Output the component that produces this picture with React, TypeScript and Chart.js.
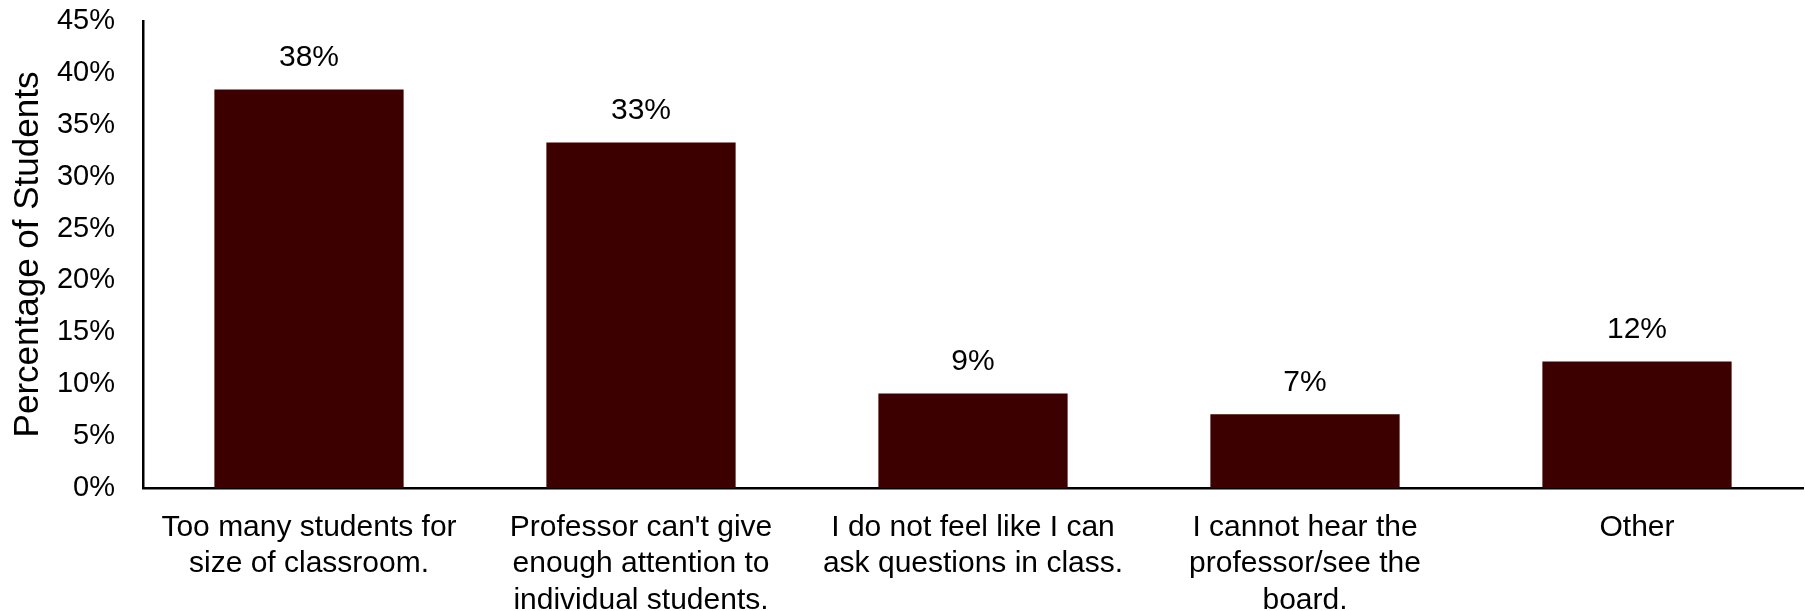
import React, { useEffect, useRef } from 'react';
import { Chart, registerables } from 'chart.js';

Chart.register(...registerables);

const categories: string[][] = [
  ['Too many students for', 'size of classroom.'],
  ["Professor can't give", 'enough attention to', 'individual students.'],
  ['I do not feel like I can', 'ask questions in class.'],
  ['I cannot hear the', 'professor/see the', 'board.'],
  ['Other'],
];
const values: number[] = [38.4, 33.3, 9.1, 7.1, 12.2];
const valueLabels: string[] = ['38%', '33%', '9%', '7%', '12%'];
const yMin = 0;
const yMax = 45;
const yStep = 5;
const yTitle = 'Percentage of Students';

const FONT = "'Liberation Sans', Arial, sans-serif";
const BAR_COLOR = '#3c0000';

const valueLabelPlugin = {
  id: 'valueLabels',
  afterDatasetsDraw(chart: any) {
    const ctx = chart.ctx;
    const meta = chart.getDatasetMeta(0);
    ctx.save();
    ctx.font = `30px ${FONT}`;
    ctx.fillStyle = '#000';
    ctx.textAlign = 'center';
    ctx.textBaseline = 'middle';
    meta.data.forEach((bar: any, i: number) => {
      ctx.fillText(valueLabels[i], bar.x, bar.y - 32);
    });
    ctx.restore();
  },
};

export default function App() {
  const canvasRef = useRef<HTMLCanvasElement | null>(null);

  useEffect(() => {
    document.body.style.margin = '0';
    const canvas = canvasRef.current;
    if (!canvas) return;
    const chart = new Chart(canvas, {
      type: 'bar',
      data: {
        labels: categories,
        datasets: [
          {
            data: values,
            backgroundColor: BAR_COLOR,
            borderWidth: 0,
            barPercentage: 0.57,
            categoryPercentage: 1,
          },
        ],
      },
      options: {
        animation: false,
        responsive: true,
        maintainAspectRatio: false,
        devicePixelRatio: 1,
        layout: { padding: { top: 0, right: 2, bottom: 0, left: 0 } },
        plugins: {
          legend: { display: false },
          tooltip: { enabled: false },
          title: { display: false },
        },
        scales: {
          x: {
            grid: { display: false, drawTicks: false },
            border: { display: true, color: '#000', width: 2.5 },
            ticks: {
              color: '#000',
              padding: 21,
              maxRotation: 0,
              autoSkip: false,
              font: { family: FONT, size: 30, lineHeight: 1.22 },
            },
            afterFit: (scale: any) => {
              scale.height = 123;
            },
          },
          y: {
            min: yMin,
            max: yMax,
            grid: { display: false, drawTicks: false },
            border: { display: true, color: '#000', width: 2.5 },
            ticks: {
              stepSize: yStep,
              color: '#000',
              padding: 28,
              font: { family: FONT, size: 29 },
              callback: (v: any) => `${v}%`,
            },
            title: {
              display: true,
              text: yTitle,
              color: '#000',
              font: { family: FONT, size: 35, lineHeight: 1.2 },
              padding: { top: 7, bottom: 0 },
            },
            afterFit: (scale: any) => {
              scale.width = 143;
              scale.paddingTop = 21;
              scale.paddingBottom = 0;
            },
          },
        },
      },
      plugins: [valueLabelPlugin],
    });
    return () => chart.destroy();
  }, []);

  return (
    <div style={{ width: 1805, height: 611, position: 'relative' }}>
      <canvas ref={canvasRef} />
    </div>
  );
}
